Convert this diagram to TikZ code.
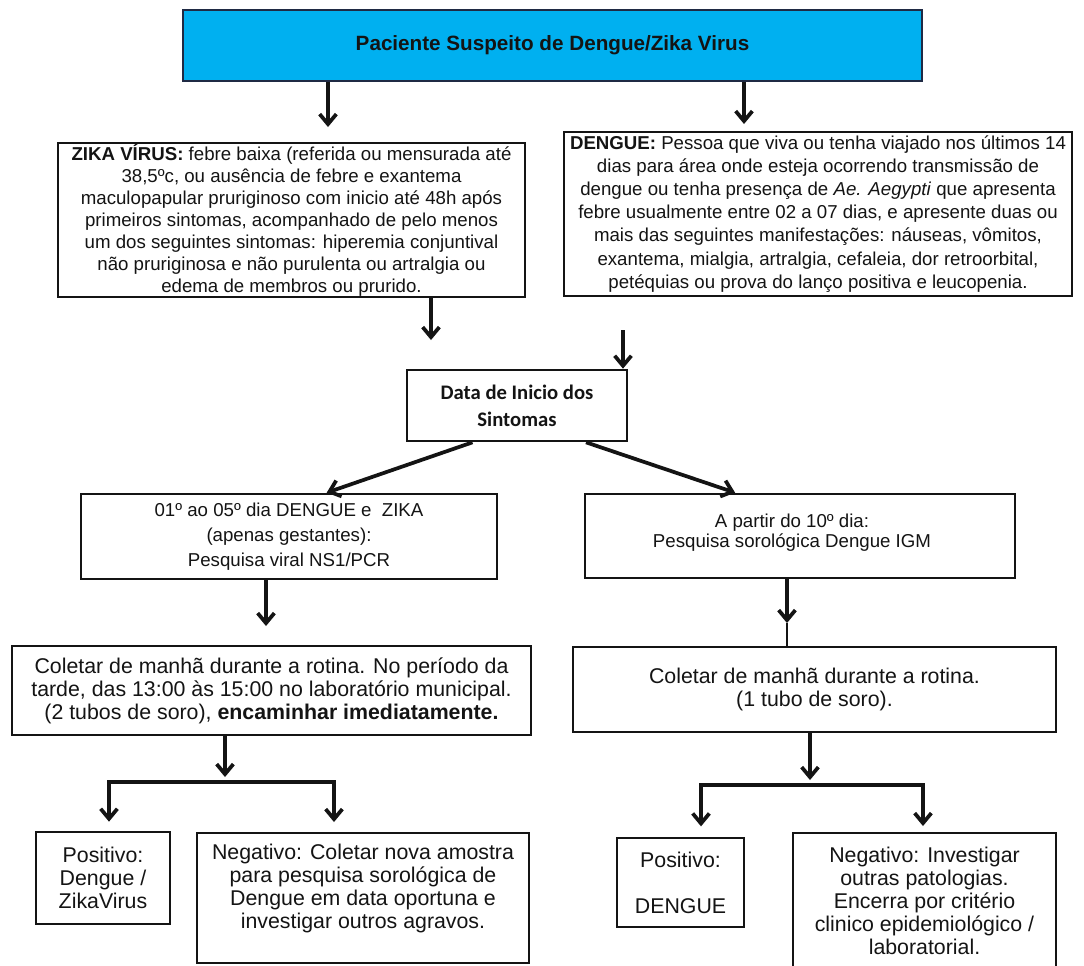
\documentclass[tikz,border=0pt]{standalone}
\usepackage{fontspec}
\setmainfont{Liberation Sans}
\newfontfamily\calibrifont{Carlito}
\usetikzlibrary{arrows.meta,calc}
\definecolor{cyanblue}{HTML}{00B0F0}
\definecolor{navyline}{HTML}{1F2A44}
\definecolor{ink}{HTML}{141414}
\begin{document}
\begin{tikzpicture}[x=0.75pt,y=-0.75pt,
  box/.style 2 args={draw=ink, line width=1.5pt, rectangle, inner sep=0pt, align=center,
    text=ink, minimum width=#1*0.75pt, minimum height=#2*0.75pt},
  thk/.style={draw=ink, line width=2.8pt},
  arr/.style={draw=ink, line width=2.8pt, -{Straight Barb[length=7.5pt,width=12.5pt]}},
  fA/.style={font=\fontsize{14}{16.5}\selectfont},
  fB/.style={font=\fontsize{16}{17.3}\selectfont},
]
\useasboundingbox[fill=white] (0,0) rectangle (1084,965);

% boxes
\node[box={739}{71}, fill=cyanblue, draw=navyline, line width=1.6pt,
      font=\bfseries\fontsize{15.5}{18}\selectfont] (top) at (552.5,45.5)
  {Paciente Suspeito de Dengue/Zika Virus};

\node[box={467}{154}, fA] (zika) at (291.5,220)
  {\textbf{ZIKA VÍRUS:} febre baixa (referida ou mensurada até\\
   38,5ºc, ou ausência de febre e exantema\\
   maculopapular pruriginoso com inicio até 48h após\\
   primeiros sintomas, acompanhado de pelo menos\\
   um dos seguintes sintomas: hiperemia conjuntival\\
   não pruriginosa e não purulenta ou artralgia ou\\
   edema de membros ou prurido.};

\node[box={508}{164}, font=\fontsize{14}{17.3}\selectfont] (dengue) at (818,214)
  {\textbf{DENGUE:} Pessoa que viva ou tenha viajado nos últimos 14\\
   dias para área onde esteja ocorrendo transmissão de\\
   dengue ou tenha presença de \textit{Ae. Aegypti} que apresenta\\
   febre usualmente entre 02 a 07 dias, e apresente duas ou\\
   mais das seguintes manifestações: náuseas, vômitos,\\
   exantema, mialgia, artralgia, cefaleia, dor retroorbital,\\
   petéquias ou prova do lanço positiva e leucopenia.};

\node[box={220}{71}, line width=2pt, font=\calibrifont\bfseries\fontsize{15.5}{20.25}\selectfont]
  (data) at (517,405.5) {Data de Inicio dos\\Sintomas};

\node[box={416}{85}, line width=2pt, font=\fontsize{14}{18.75}\selectfont] (p1) at (289,536.5)
  {01º ao 05º dia DENGUE e\ \ ZIKA\\(apenas gestantes):\\Pesquisa viral NS1/PCR};

\node[box={430}{84}, line width=2pt] (p2) at (800,536) {};
\node[align=center, text=ink, inner sep=0pt, font=\fontsize{14}{15}\selectfont]
  (p2text) at ($(p2.center)+(-8,-3)$) {A partir do 10º dia:\\Pesquisa sorológica Dengue IGM};

\node[box={519}{89}, fB] (c1) at (271.5,690.5)
  {Coletar de manhã durante a rotina. No período da\\
   tarde, das 13:00 às 15:00 no laboratório municipal.\\
   (2 tubos de soro), \textbf{encaminhar imediatamente.}};

\node[box={483}{85}, fB] (c2) at (814.5,689.5)
  {Coletar de manhã durante a rotina.\\(1 tubo de soro).};

\node[box={134}{92}, fB] (posl) at (103,878) {Positivo:\\Dengue /\\ZikaVirus};
\node[box={332}{130}, fB] (negl) at (363,898)
  {Negativo: Coletar nova amostra\\para pesquisa sorológica de\\
   Dengue em data oportuna e\\investigar outros agravos.\\\mbox{}};
\node[box={127}{89}, fB] (posr) at (680.5,882.5) {Positivo:\\\mbox{}\\DENGUE};
\node[box={263}{135}, fB] (negr) at (924.5,900.5)
  {Negativo: Investigar\\outras patologias.\\Encerra por critério\\
   clinico epidemiológico /\\laboratorial.};

% connectors
\coordinate (a1) at (328,127);
\coordinate (a2) at (744,124);
\draw[arr] (a1 |- top.south) -- (a1);
\draw[arr] (a2 |- top.south) -- (a2);

\coordinate (a3) at (431,340);
\draw[arr] (a3 |- zika.south) -- (a3);
\coordinate (a4) at (623,330);
\draw[arr] (a4) -- (a4 |- data.north);

\draw[arr] ($(data.south west)!0.3!(data.south east)$) -- ($(p1.north west)!0.59!(p1.north east)$);
\draw[arr] ($(data.south west)!0.81!(data.south east)$) -- ($(p2.north west)!0.35!(p2.north east)$);

\coordinate (a5) at (266,626);
\draw[arr] (a5 |- p1.south) -- (a5);
\coordinate (a6) at (787,623);
\draw[arr] (a6 |- p2.south) -- (a6);
\draw[draw=ink, line width=0.8pt] (a6) -- (a6 |- c2.north);

\coordinate (a7) at (225,777);
\draw[arr] (a7 |- c1.south) -- (a7);
\coordinate (bl1) at (109,782);
\coordinate (br1) at (334,782);
\draw[thk, line cap=rect] (bl1) -- (br1);
\draw[arr, shorten >=7pt] (bl1) -- (bl1 |- posl.north);
\draw[arr, shorten >=7.5pt] (br1) -- (br1 |- negl.north);

\coordinate (a8) at (810,780);
\draw[arr] (a8 |- c2.south) -- (a8);
\coordinate (bl2) at (701,785);
\coordinate (br2) at (923,785);
\draw[thk, line cap=rect] (bl2) -- (br2);
\draw[arr, shorten >=8pt] (bl2) -- (bl2 |- posr.north);
\draw[arr, shorten >=4.5pt] (br2) -- (br2 |- negr.north);
\end{tikzpicture}
\end{document}
